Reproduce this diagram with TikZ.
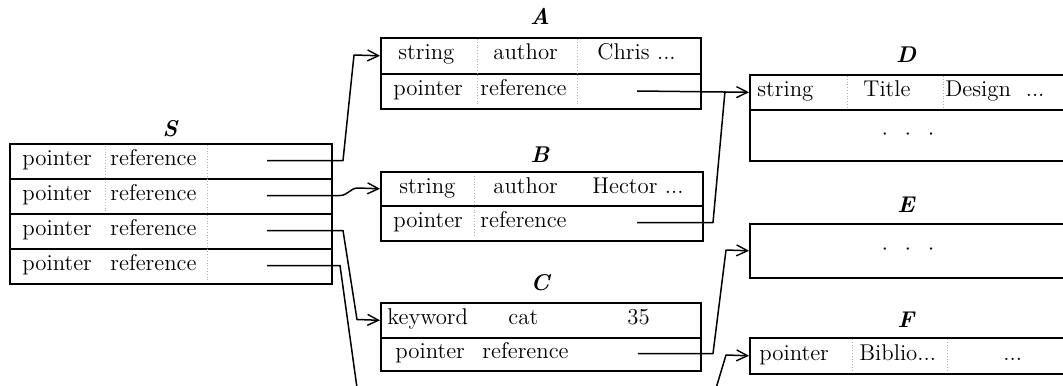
\documentclass[tikz,border=0pt]{standalone}
\usepackage{fontspec}
\usetikzlibrary{arrows.meta}
\begin{document}
\begin{tikzpicture}[x=0.5pt,y=-0.5pt,
  font=\fontsize{11.4}{13}\selectfont,
  cell/.style={draw, line width=0.8pt, inner sep=0pt, anchor=north west},
  txt/.style={anchor=base west, inner sep=0pt},
  lbl/.style={anchor=base, inner sep=0pt, font=\fontsize{11.4}{13}\selectfont\bfseries\itshape},
  sepline/.style={densely dotted, gray!60, line width=0.4pt},
  conn/.style={line width=0.75pt, line join=round},
  arr/.style={conn, -{Straight Barb[length=5.5pt,width=5.5pt,line width=0.7pt]}}
]
\useasboundingbox (0,0) rectangle (1063,385);
\clip (0,0) rectangle (1063,385);

% ---------- S ----------
\node[lbl] (Sl) at (170,136) {S};
\node[cell, minimum width=161pt, minimum height=17.5pt] (S1) at (9,143) {};
\node[cell, minimum width=161pt, minimum height=17.5pt] (S2) at (9,178) {};
\node[cell, minimum width=161pt, minimum height=17.5pt] (S3) at (9,213) {};
\node[cell, minimum width=161pt, minimum height=17.5pt] (S4) at (9,248) {};
\node[txt] (s1a) at (22,165.5) {pointer};  \node[txt] (s1b) at (110,165.5) {reference};
\node[txt] (s2a) at (22,200.5) {pointer};  \node[txt] (s2b) at (110,200.5) {reference};
\node[txt] (s3a) at (22,235.5) {pointer};  \node[txt] (s3b) at (110,235.5) {reference};
\node[txt] (s4a) at (22,270.5) {pointer};  \node[txt] (s4b) at (110,270.5) {reference};
\draw[sepline] (207,145) -- (207,281);
\draw[sepline] (105,146) -- (105,211);

% ---------- A ----------
\node[lbl] (Al) at (540,25) {A};
\node[cell, minimum width=160pt, minimum height=18pt] (A1) at (380,37) {};
\node[cell, minimum width=160pt, minimum height=17.5pt] (A2) at (380,73) {};
\node[txt] (a1a) at (398,60) {string};
\node[txt] (a1b) at (493,60) {author};
\node[txt] (a1c) at (597,60) {Chris ...};
\node[txt] (a2a) at (393,95.5) {pointer};
\node[txt] (a2b) at (480,95.5) {reference};
\draw[sepline] (477,39) -- (477,106);
\draw[sepline] (577,39) -- (577,106);

% ---------- B ----------
\node[lbl] (Bl) at (540,162) {B};
\node[cell, minimum width=161pt, minimum height=17pt] (B1) at (380,171) {};
\node[cell, minimum width=161pt, minimum height=17.5pt] (B2) at (380,205) {};
\node[txt] (b1a) at (399,193) {string};
\node[txt] (b1b) at (493,193) {author};
\node[txt] (b1c) at (592,193) {Hector ...};
\node[txt] (b2a) at (393,227.5) {pointer};
\node[txt] (b2b) at (480,227.5) {reference};
\draw[sepline] (474,176) -- (474,236);

% ---------- C ----------
\node[lbl] (Cl) at (540,290) {C};
\node[cell, minimum width=160pt, minimum height=17.5pt] (C1) at (380,302) {};
\node[cell, minimum width=160pt, minimum height=16.5pt] (C2) at (380,337) {};
\node[txt] (c1a) at (387,324.5) {keyword};
\node[txt] (c1b) at (508,324.5) {cat};
\node[txt] (c1c) at (627,324.5) {35};
\node[txt] (c2a) at (395,358.5) {pointer};
\node[txt] (c2b) at (482,358.5) {reference};

% ---------- D ----------
\node[lbl] (Dl) at (906,62) {D};
\node[cell, minimum width=170pt, minimum height=17.5pt] (D1) at (749,74) {};
\node[cell, minimum width=170pt, minimum height=25.5pt] (D2) at (749,109) {};
\node[txt] (d1a) at (757,96.5) {string};
\node[txt] (d1b) at (863,96.5) {Title};
\node[txt] (d1c) at (945,96.5) {Design\ \ ...};
\node (d2a) at (908,134.5) {$\cdot\;\;\cdot\;\;\cdot$};
\draw[sepline] (847,76) -- (847,107);
\draw[sepline] (943,76) -- (943,107);

% ---------- E ----------
\node[lbl] (El) at (906,212) {E};
\node[cell, minimum width=170pt, minimum height=27pt] (E1) at (749,223) {};
\node (e1a) at (908,250) {$\cdot\;\;\cdot\;\;\cdot$};

% ---------- F ----------
\node[lbl] (Fl) at (906,327) {F};
\node[cell, minimum width=170pt, minimum height=18pt] (F1) at (749,337) {};
\node[txt] (f1a) at (759,360.5) {pointer};
\node[txt] (f1b) at (859,360.5) {Biblio...};
\node[txt] (f1c) at (1003,360.5) {...};
\draw[sepline] (852,339) -- (852,371);
\draw[sepline] (947,339) -- (947,371);

% ---------- connector start points ----------
\coordinate (p1) at (267,160.5);
\coordinate (p2) at (267,195.5);
\coordinate (p3) at (267,230.5);
\coordinate (p4) at (267,265.5);
\coordinate (p4end) at (358,395);
\coordinate (pa) at (637,91);
\coordinate (pb) at (637,222.5);
\coordinate (pbend) at (725,91);
\coordinate (pc) at (638,353.5);
\coordinate (pf) at (714,395);

% ---------- connectors ----------
\draw[arr] (p1) -- (343,160.5) -- (354,55) -- (A1.west);
\draw[arr] (p2) -- (340,195.5) .. controls (348,195.5) and (350,188) .. (358,188) -- (B1.west);
\draw[arr] (p3) -- (343,230.5) -- (357,319.5) -- (C1.west);
\draw[conn] (p4) -- (340,265.5) -- (p4end);
\draw[arr] (pa) -- (D1.west);
\draw[conn] (pb) -- (713,222.5) -- (pbend);
\draw[arr] (pc) -- (713,353.5) -- (726,250) -- (E1.west);
\draw[arr] (pf) -- (726,355) -- (F1.west);
\end{tikzpicture}
\end{document}
